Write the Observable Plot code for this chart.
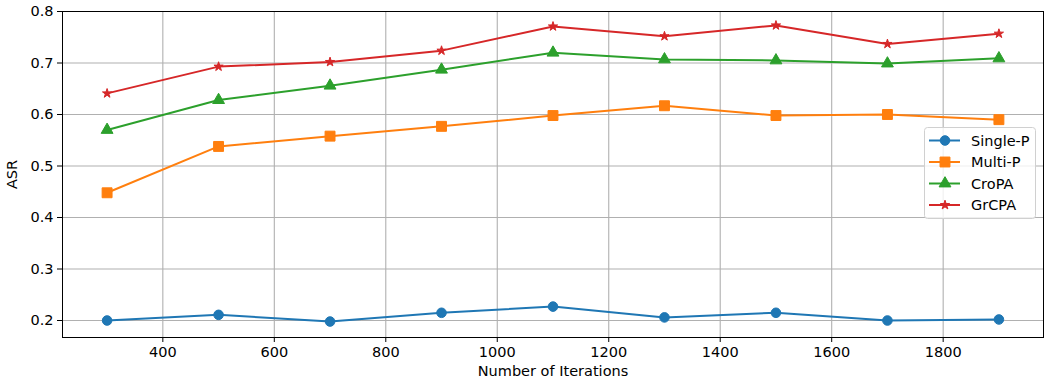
<!DOCTYPE html>
<html><head><meta charset="utf-8">
<script src="https://cdn.jsdelivr.net/npm/d3@7"></script>
<script src="https://cdn.jsdelivr.net/npm/@observablehq/plot@0.6"></script>
<style>
body{margin:0;background:#fff;font-family:"DejaVu Sans",sans-serif;}
#wrap{position:relative;width:1045px;height:379px;}
#legend{position:absolute;left:924px;top:127px;width:112px;height:92px;}
</style></head><body><div id="wrap"><div id="legend"></div></div>
<script>
const iterations = [300, 500, 700, 900, 1100, 1300, 1500, 1700, 1900];
const seriesNames = ["Single-P", "Multi-P", "CroPA", "GrCPA"];
const singleP = [0.200, 0.211, 0.198, 0.215, 0.227, 0.206, 0.215, 0.200, 0.202];
const multiP  = [0.448, 0.538, 0.558, 0.577, 0.598, 0.617, 0.598, 0.600, 0.590];
const croPA   = [0.570, 0.628, 0.656, 0.687, 0.720, 0.707, 0.705, 0.699, 0.709];
const grCPA   = [0.641, 0.693, 0.702, 0.724, 0.771, 0.752, 0.773, 0.737, 0.757];
const xTicks = [400, 600, 800, 1000, 1200, 1400, 1600, 1800];
const yTicks = [0.2, 0.3, 0.4, 0.5, 0.6, 0.7, 0.8];
const xLabel = "Number of Iterations";
const yLabel = "ASR";

const colors = ["#1f77b4", "#ff7f0e", "#2ca02c", "#d62728"];
const symbols = ["circle", "square", "triangle", "star"];
const radii = [4.8, 5.6, 4.4, 2.9];
const seriesValues = [singleP, multiP, croPA, grCPA];
const fontSize = "14.5px";

const rows = [];
seriesNames.forEach((name, i) => {
  seriesValues[i].forEach((v, j) => rows.push({series: name, x: iterations[j], y: v, idx: i}));
});

const marks = [
  Plot.gridX(xTicks, {stroke: "#b0b0b0", strokeOpacity: 1, strokeWidth: 1.1}),
  Plot.gridY(yTicks, {stroke: "#b0b0b0", strokeOpacity: 1, strokeWidth: 1.1}),
];
seriesNames.forEach((name, i) => {
  const d = rows.filter(r => r.series === name);
  marks.push(Plot.line(d, {x: "x", y: "y", stroke: colors[i], strokeWidth: 2}));
  marks.push(Plot.dot(d, {x: "x", y: "y", symbol: () => symbols[i], fill: colors[i], stroke: colors[i], strokeWidth: 1, r: radii[i]}));
});
marks.push(
  Plot.axisX({ticks: xTicks, tickSize: 5, tickPadding: 4, tickFormat: d => String(d), label: xLabel, labelAnchor: "center", labelArrow: "none", labelOffset: 38}),
  Plot.axisY({ticks: yTicks, tickSize: 5, tickPadding: 4, tickFormat: d3.format(".1f"), label: yLabel, labelAnchor: "center", labelArrow: "none", labelOffset: 56}),
  Plot.frame({stroke: "black", strokeWidth: 1})
);

const chart = Plot.plot({
  width: 1045, height: 379,
  marginLeft: 62, marginRight: 2, marginTop: 11, marginBottom: 42,
  x: {domain: [220, 1980]},
  y: {domain: [0.167, 0.8]},
  symbol: {type: "identity"},
  style: {fontSize: fontSize, fontFamily: "DejaVu Sans", color: "black", background: "white"},
  marks
});
document.getElementById("wrap").prepend(chart);

// legend overlay
const lg = d3.select("#legend").append("svg").attr("width", 112).attr("height", 92)
  .style("font-family", "DejaVu Sans").style("font-size", fontSize);
lg.append("rect").attr("x", 0.5).attr("y", 0.5).attr("width", 111).attr("height", 91).attr("rx", 3)
  .attr("fill", "white").attr("fill-opacity", 0.8).attr("stroke", "#d0d0d0");
seriesNames.forEach((name, i) => {
  const cy = 13.5 + i * 21.5;
  const g = lg.append("g");
  g.append("line").attr("x1", 5).attr("x2", 36).attr("y1", cy).attr("y2", cy).attr("stroke", colors[i]).attr("stroke-width", 2);
  const symType = [d3.symbolCircle, d3.symbolSquare, d3.symbolTriangle, d3.symbolStar][i];
  g.append("path").attr("transform", `translate(21,${cy})`)
    .attr("d", d3.symbol(symType, Math.PI * radii[i] * radii[i])())
    .attr("fill", colors[i]).attr("stroke", colors[i]).attr("stroke-width", 1);
  g.append("text").attr("x", 47).attr("y", cy).attr("dy", "0.35em").text(name);
});
</script>
</body></html>
